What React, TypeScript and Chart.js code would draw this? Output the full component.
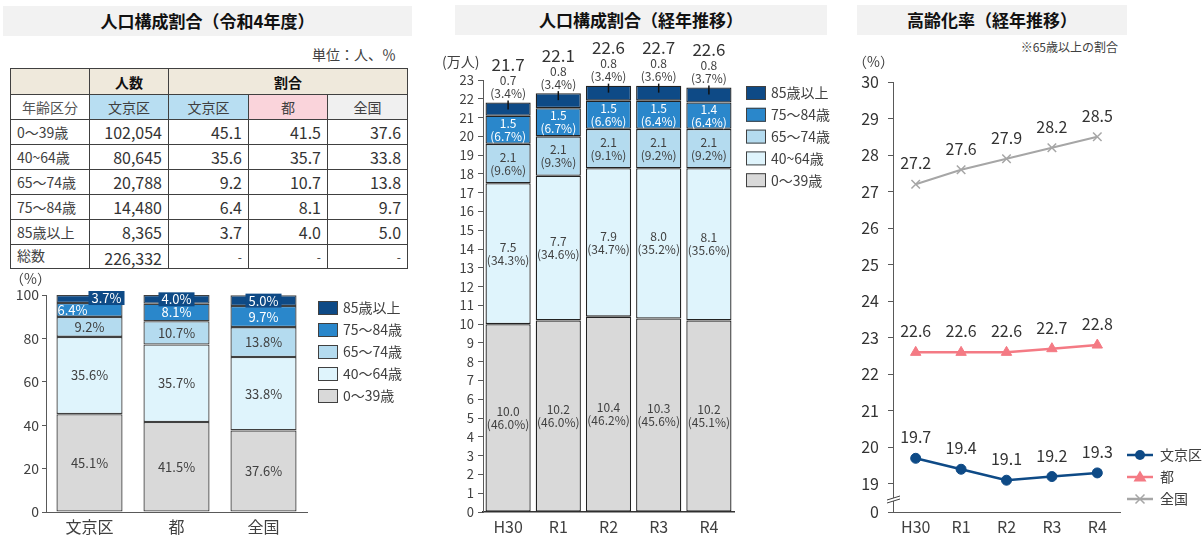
import React, { useEffect, useRef } from "react";
import { Chart, registerables } from "chart.js";
Chart.register(...registerables);

const FONT = '"Noto Sans CJK JP", "Noto Sans", sans-serif';
const TEXT = "#404040";

// ---- Panel 1: 人口構成割合（令和4年度）----
const tableAgeGroups = ["0～39歳", "40~64歳", "65～74歳", "75～84歳", "85歳以上"];
const legendAgeGroups = ["0～39歳", "40～64歳", "65～74歳", "75～84歳", "85歳以上"];
const bunkyoCount = [102054, 80645, 20788, 14480, 8365];
const bunkyoTotal = 226332;
const bunkyoPct = [45.1, 35.6, 9.2, 6.4, 3.7];
const tokyoPct = [41.5, 35.7, 10.7, 8.1, 4.0];
const nationalPct = [37.6, 33.8, 13.8, 9.7, 5.0];
const compCategories = ["文京区", "都", "全国"];

// ---- Panel 2: 人口構成割合（経年推移）----
const years = ["H30", "R1", "R2", "R3", "R4"];
const pop0_39 = [10.0, 10.2, 10.4, 10.3, 10.2];
const pop40_64 = [7.5, 7.7, 7.9, 8.0, 8.1];
const pop65_74 = [2.1, 2.1, 2.1, 2.1, 2.1];
const pop75_84 = [1.5, 1.5, 1.5, 1.5, 1.4];
const pop85 = [0.7, 0.8, 0.8, 0.8, 0.8];
const share0_39 = [46.0, 46.0, 46.2, 45.6, 45.1];
const share40_64 = [34.3, 34.6, 34.7, 35.2, 35.6];
const share65_74 = [9.6, 9.3, 9.1, 9.2, 9.2];
const share75_84 = [6.7, 6.7, 6.6, 6.4, 6.4];
const share85 = [3.4, 3.4, 3.4, 3.6, 3.7];
const popTotal = [21.7, 22.1, 22.6, 22.7, 22.6];
const trendLegend = ["0～39歳", "40~64歳", "65～74歳", "75～84歳", "85歳以上"];

// ---- Panel 3: 高齢化率（経年推移）----
const agingSeriesNames = ["文京区", "都", "全国"];
const agingBunkyo = [19.7, 19.4, 19.1, 19.2, 19.3];
const agingTokyo = [22.6, 22.6, 22.6, 22.7, 22.8];
const agingNational = [27.2, 27.6, 27.9, 28.2, 28.5];
const agingAxisFloor = 18.23; // shown as "0" below the axis break
const agingTickValues = [19, 20, 21, 22, 23, 24, 25, 26, 27, 28, 29, 30];

const segColors = ["#d9d9d9", "#dff4fc", "#b4dbef", "#2a87cb", "#0e4a86"];
const lineColors = ["#0e4a86", "#f47a84", "#a6a6a6"];

function ChartCanvas(props: { left: number; top: number; width: number; height: number; make: () => any }) {
  const ref = useRef<HTMLCanvasElement>(null);
  useEffect(() => {
    const chart = new Chart(ref.current as HTMLCanvasElement, props.make());
    return () => chart.destroy();
  }, []);
  return (
    <canvas
      ref={ref}
      width={props.width}
      height={props.height}
      style={{ position: "absolute", left: props.left, top: props.top, width: props.width, height: props.height }}
    />
  );
}

// ---------- Chart 1 ----------
function makeCompChart() {
  const series = [0, 1, 2, 3, 4].map((i) => [bunkyoPct[i], tokyoPct[i], nationalPct[i]]);
  const plugin = {
    id: "comp100",
    afterDatasetsDraw(chart: any) {
      const ctx = chart.ctx;
      ctx.save();
      ctx.textAlign = "center";
      ctx.textBaseline = "middle";
      ctx.font = `13px ${FONT}`;
      chart.data.datasets.forEach((ds: any, i: number) => {
        const meta = chart.getDatasetMeta(i);
        meta.data.forEach((el: any, j: number) => {
          const v = ds.data[j];
          let x = el.x;
          let y = (el.y + el.base) / 2;
          const txt = v.toFixed(1) + "%";
          if (i === 4) {
            if (j === 0) {
              x += 17;
              y -= 1;
            }
            const w = ctx.measureText(txt).width + 6;
            ctx.fillStyle = segColors[4];
            ctx.fillRect(x - w / 2, y - 7, w, 14);
            ctx.fillStyle = "#fff";
          } else if (i === 3) {
            if (j === 0) x -= 17;
            ctx.fillStyle = "#fff";
          } else {
            ctx.fillStyle = TEXT;
          }
          ctx.fillText(txt, x, y);
        });
      });
      // unit
      ctx.textAlign = "left";
      ctx.font = `14px ${FONT}`;
      ctx.fillStyle = TEXT;
      ctx.fillText("（%）", 10, 9);
      // legend
      ctx.font = `14px ${FONT}`;
      for (let k = 0; k < 5; k++) {
        const i = 4 - k;
        const y = 38 + k * 22;
        ctx.fillStyle = segColors[i];
        ctx.fillRect(318, y - 7, 20, 14);
        ctx.strokeStyle = "#404040";
        ctx.lineWidth = 1;
        ctx.strokeRect(318.5, y - 6.5, 19, 13);
        ctx.fillStyle = TEXT;
        ctx.fillText(legendAgeGroups[i], 343, y);
      }
      ctx.restore();
    },
  };
  return {
    type: "bar",
    data: {
      labels: compCategories,
      datasets: series.map((d, i) => ({
        label: legendAgeGroups[i],
        data: d,
        backgroundColor: segColors[i],
        borderColor: "#404040",
        borderWidth: 1.3,
        borderSkipped: false,
        categoryPercentage: 1,
        barPercentage: 0.76,
      })),
    },
    options: {
      responsive: false,
      animation: false,
      layout: { padding: { left: 0, right: 113, top: 25, bottom: 0 } },
      scales: {
        x: {
          stacked: true,
          grid: { display: false, drawTicks: false },
          border: { color: "#595959", width: 1 },
          ticks: { font: { size: 16, family: FONT }, color: TEXT, padding: 5 },
          afterFit: (s: any) => {
            s.height = 23;
          },
        },
        y: {
          stacked: true,
          min: 0,
          max: 100,
          ticks: { stepSize: 20, font: { size: 14, family: FONT }, color: TEXT, padding: 3 },
          grid: { drawOnChartArea: false, tickLength: 4, color: "#595959" },
          border: { color: "#595959", width: 1 },
          afterFit: (s: any) => {
            s.width = 46;
          },
        },
      },
      plugins: { legend: { display: false }, tooltip: { enabled: false } },
    },
    plugins: [plugin],
  };
}

// ---------- Chart 2 ----------
function makeTrendChart() {
  const values = [pop0_39, pop40_64, pop65_74, pop75_84, pop85];
  const shares = [share0_39, share40_64, share65_74, share75_84, share85];
  const plugin = {
    id: "trendLabels",
    afterDatasetsDraw(chart: any) {
      const ctx = chart.ctx;
      ctx.save();
      ctx.textAlign = "center";
      ctx.textBaseline = "middle";
      for (let i = 0; i < 5; i++) {
        const meta = chart.getDatasetMeta(i);
        meta.data.forEach((el: any, j: number) => {
          const cx = el.x;
          ctx.font = `12px ${FONT}`;
          if (i < 4) {
            const cy = (el.y + el.base) / 2;
            ctx.fillStyle = i === 3 ? "#fff" : TEXT;
            ctx.fillText(values[i][j].toFixed(1), cx, cy - 6.5);
            ctx.fillText(`(${shares[i][j].toFixed(1)}%)`, cx, cy + 6.5);
          } else {
            const top = el.y;
            ctx.strokeStyle = "#111";
            ctx.lineWidth = 1.5;
            ctx.beginPath();
            ctx.moveTo(cx, top - 2);
            ctx.lineTo(cx, top + 7);
            ctx.stroke();
            ctx.fillStyle = TEXT;
            ctx.fillText(values[i][j].toFixed(1), cx, top - 22);
            ctx.fillText(`(${shares[i][j].toFixed(1)}%)`, cx, top - 9);
            ctx.font = `17px ${FONT}`;
            ctx.fillStyle = "#333";
            ctx.fillText(popTotal[j].toFixed(1), cx, top - 38);
          }
        });
      }
      // unit
      ctx.textAlign = "left";
      ctx.font = `14px ${FONT}`;
      ctx.fillStyle = TEXT;
      ctx.fillText("(万人)", 17, 22);
      // legend
      for (let k = 0; k < 5; k++) {
        const i = 4 - k;
        const y = 53 + k * 21.8;
        ctx.fillStyle = segColors[i];
        ctx.fillRect(321, y - 7, 20, 14);
        ctx.strokeStyle = "#404040";
        ctx.lineWidth = 1;
        ctx.strokeRect(321.5, y - 6.5, 19, 13);
        ctx.fillStyle = TEXT;
        ctx.font = `14px ${FONT}`;
        ctx.fillText(trendLegend[i], 346, y);
      }
      ctx.restore();
    },
  };
  return {
    type: "bar",
    data: {
      labels: years,
      datasets: values.map((d, i) => ({
        label: trendLegend[i],
        data: d,
        backgroundColor: segColors[i],
        borderColor: "#222",
        borderWidth: 1.3,
        borderSkipped: false,
        categoryPercentage: 1,
        barPercentage: 0.9,
      })),
    },
    options: {
      responsive: false,
      animation: false,
      layout: { padding: { left: 0, right: 111, top: 40, bottom: 0 } },
      scales: {
        x: {
          stacked: true,
          grid: { display: false, drawTicks: false },
          border: { color: "#333", width: 1.5 },
          ticks: { font: { size: 16, family: FONT }, color: TEXT, padding: 5 },
          afterFit: (s: any) => {
            s.height = 23;
          },
        },
        y: {
          stacked: true,
          min: 0,
          max: 23,
          ticks: {
            stepSize: 1,
            maxTicksLimit: 40,
            autoSkip: false,
            font: { size: 13, family: FONT },
            color: TEXT,
            padding: 4,
          },
          grid: { drawOnChartArea: false, tickLength: 5, color: "#595959" },
          border: { color: "#595959", width: 1 },
          afterFit: (s: any) => {
            s.width = 58;
          },
        },
      },
      plugins: { legend: { display: false }, tooltip: { enabled: false } },
    },
    plugins: [plugin],
  };
}

// ---------- Chart 3 ----------
function drawMarker(ctx: any, style: string, x: number, y: number, color: string) {
  ctx.fillStyle = color;
  ctx.strokeStyle = color;
  if (style === "circle") {
    ctx.beginPath();
    ctx.arc(x, y, 5, 0, Math.PI * 2);
    ctx.fill();
  } else if (style === "triangle") {
    ctx.beginPath();
    ctx.moveTo(x, y - 6.5);
    ctx.lineTo(x - 6.5, y + 4.5);
    ctx.lineTo(x + 6.5, y + 4.5);
    ctx.closePath();
    ctx.fill();
  } else {
    ctx.lineWidth = 1.5;
    ctx.beginPath();
    ctx.moveTo(x - 4.5, y - 4.5);
    ctx.lineTo(x + 4.5, y + 4.5);
    ctx.moveTo(x + 4.5, y - 4.5);
    ctx.lineTo(x - 4.5, y + 4.5);
    ctx.stroke();
  }
}

function makeAgingChart() {
  const series = [agingBunkyo, agingTokyo, agingNational];
  const styles = ["circle", "triangle", "crossRot"];
  const plugin = {
    id: "agingExtras",
    afterDatasetsDraw(chart: any) {
      const ctx = chart.ctx;
      ctx.save();
      ctx.textAlign = "center";
      ctx.textBaseline = "middle";
      ctx.font = `16px ${FONT}`;
      ctx.fillStyle = "#333";
      series.forEach((d, i) => {
        const meta = chart.getDatasetMeta(i);
        meta.data.forEach((el: any, j: number) => {
          ctx.fillText(d[j].toFixed(1), el.x, el.y - 21);
        });
      });
      ctx.textAlign = "left";
      ctx.font = `14px ${FONT}`;
      ctx.fillStyle = TEXT;
      ctx.fillText("（%）", 8, 22);
      // legend
      const ly = [415, 437, 459];
      for (let i = 0; i < 3; i++) {
        ctx.strokeStyle = lineColors[i];
        ctx.lineWidth = 2.5;
        ctx.beginPath();
        ctx.moveTo(282, ly[i]);
        ctx.lineTo(308, ly[i]);
        ctx.stroke();
        drawMarker(ctx, styles[i], 295, ly[i], lineColors[i]);
        ctx.fillStyle = TEXT;
        ctx.font = `14px ${FONT}`;
        ctx.fillText(agingSeriesNames[i], 315, ly[i]);
      }
      ctx.restore();
    },
    afterDraw(chart: any) {
      const ctx = chart.ctx;
      ctx.save();
      ctx.fillStyle = "#fff";
      ctx.beginPath();
      ctx.moveTo(42, 460);
      ctx.lineTo(55, 456);
      ctx.lineTo(55, 459);
      ctx.lineTo(42, 463);
      ctx.closePath();
      ctx.fill();
      ctx.strokeStyle = "#404040";
      ctx.lineWidth = 1;
      ctx.beginPath();
      ctx.moveTo(42, 460);
      ctx.lineTo(55, 456);
      ctx.moveTo(42, 463);
      ctx.lineTo(55, 459);
      ctx.stroke();
      ctx.restore();
    },
  };
  return {
    type: "line",
    data: {
      labels: years,
      datasets: series.map((d, i) => ({
        label: agingSeriesNames[i],
        data: d,
        borderColor: lineColors[i],
        backgroundColor: lineColors[i],
        pointStyle: styles[i],
        pointRadius: i === 0 ? 5 : 6,
        pointBorderWidth: i === 2 ? 1.5 : 1,
        borderWidth: i === 2 ? 2 : 2.5,
        tension: 0,
      })),
    },
    options: {
      responsive: false,
      animation: false,
      layout: { padding: { left: 0, right: 83, top: 42, bottom: 0 } },
      scales: {
        x: {
          offset: true,
          grid: { display: false, drawTicks: false },
          border: { color: "#595959", width: 1 },
          ticks: { font: { size: 16, family: FONT }, color: TEXT, padding: 5 },
          afterFit: (s: any) => {
            s.height = 23;
          },
        },
        y: {
          min: agingAxisFloor,
          max: 30,
          afterBuildTicks: (s: any) => {
            s.ticks = [agingAxisFloor, ...agingTickValues].map((v) => ({ value: v }));
          },
          ticks: {
            autoSkip: false,
            font: { size: 16, family: FONT },
            color: "#333",
            padding: 9,
            callback: (v: any) => (v < 19 ? "0" : String(v)),
          },
          grid: { drawOnChartArea: false, tickLength: 5, color: "#595959" },
          border: { color: "#595959", width: 1 },
          afterFit: (s: any) => {
            s.width = 48;
          },
        },
      },
      plugins: { legend: { display: false }, tooltip: { enabled: false } },
    },
    plugins: [plugin],
  };
}

// ---------- Table ----------
const BEIGE = "#efe9dc";
const BLUE = "#b8def2";
const PINK = "#fad4db";
const GRAY = "#f0f0f0";
const bd = "1px solid #404040";

function DataTable() {
  const base: React.CSSProperties = {
    border: bd,
    padding: "0 6px",
    fontSize: 14,
    color: TEXT,
    verticalAlign: "middle",
    whiteSpace: "nowrap",
    overflow: "hidden",
  };
  const num: React.CSSProperties = { ...base, textAlign: "right", fontSize: 16, color: "#333" };
  const rowH = [26, 25, 25, 24, 25, 24, 24, 24];
  return (
    <table
      style={{
        position: "absolute",
        left: 10,
        top: 68,
        width: 397,
        borderCollapse: "collapse",
        tableLayout: "fixed",
        fontFamily: FONT,
        border: "1.5px solid #333",
      }}
    >
      <colgroup>
        {[79, 79, 80, 79, 80].map((w, i) => (
          <col key={i} style={{ width: w }} />
        ))}
      </colgroup>
      <tbody>
        <tr style={{ height: rowH[0] }}>
          <td style={{ ...base, background: BEIGE }}></td>
          <td style={{ ...base, background: BEIGE, textAlign: "center", fontWeight: "bold", color: "#111" }}>人数</td>
          <td colSpan={3} style={{ ...base, background: BEIGE, textAlign: "center", fontWeight: "bold", color: "#111" }}>
            割合
          </td>
        </tr>
        <tr style={{ height: rowH[1] }}>
          <td style={{ ...base, textAlign: "center", color: "#555" }}>年齢区分</td>
          <td style={{ ...base, textAlign: "center", background: BLUE }}>文京区</td>
          <td style={{ ...base, textAlign: "center", background: BLUE }}>文京区</td>
          <td style={{ ...base, textAlign: "center", background: PINK }}>都</td>
          <td style={{ ...base, textAlign: "center", background: GRAY }}>全国</td>
        </tr>
        {tableAgeGroups.map((g, i) => (
          <tr key={g} style={{ height: rowH[i + 2] }}>
            <td style={base}>{g}</td>
            <td style={num}>{bunkyoCount[i].toLocaleString("en-US")}</td>
            <td style={num}>{bunkyoPct[i].toFixed(1)}</td>
            <td style={num}>{tokyoPct[i].toFixed(1)}</td>
            <td style={num}>{nationalPct[i].toFixed(1)}</td>
          </tr>
        ))}
        <tr style={{ height: rowH[7] }}>
          <td style={{ ...base, verticalAlign: "top" }}>総数</td>
          <td style={{ ...num, verticalAlign: "bottom", lineHeight: "20px" }}>{bunkyoTotal.toLocaleString("en-US")}</td>
          <td style={{ ...num, fontSize: 12 }}>-</td>
          <td style={{ ...num, fontSize: 12 }}>-</td>
          <td style={{ ...num, fontSize: 12 }}>-</td>
        </tr>
      </tbody>
    </table>
  );
}

function Title(props: { left: number; top: number; width: number; text: string }) {
  return (
    <div
      style={{
        position: "absolute",
        left: props.left,
        top: props.top,
        width: props.width,
        height: 30,
        lineHeight: "30px",
        background: "#f2f2f2",
        textAlign: "center",
        fontWeight: "bold",
        fontSize: 17,
        color: "#111",
        fontFamily: FONT,
      }}
    >
      {props.text}
    </div>
  );
}

export default function App() {
  return (
    <div
      style={{
        position: "absolute",
        left: 0,
        top: 0,
        width: 1203,
        height: 535,
        overflow: "hidden",
        background: "#fff",
        fontFamily: FONT,
      }}
    >
      <Title left={3} top={6} width={409} text="人口構成割合（令和4年度）" />
      <Title left={455} top={5} width={372} text="人口構成割合（経年推移）" />
      <Title left={857} top={5} width={270} text="高齢化率（経年推移）" />
      <div
        style={{
          position: "absolute",
          left: 200,
          top: 45,
          width: 196,
          textAlign: "right",
          fontSize: 14,
          lineHeight: "18px",
          color: TEXT,
        }}
      >
        単位：人、％
      </div>
      <div
        style={{
          position: "absolute",
          left: 900,
          top: 39,
          width: 218,
          textAlign: "right",
          fontSize: 12,
          lineHeight: "16px",
          color: TEXT,
        }}
      >
        ※65歳以上の割合
      </div>
      <DataTable />
      <ChartCanvas left={0} top={270} width={420} height={265} make={makeCompChart} />
      <ChartCanvas left={425} top={40} width={420} height={495} make={makeTrendChart} />
      <ChartCanvas left={845} top={40} width={358} height={495} make={makeAgingChart} />
    </div>
  );
}
